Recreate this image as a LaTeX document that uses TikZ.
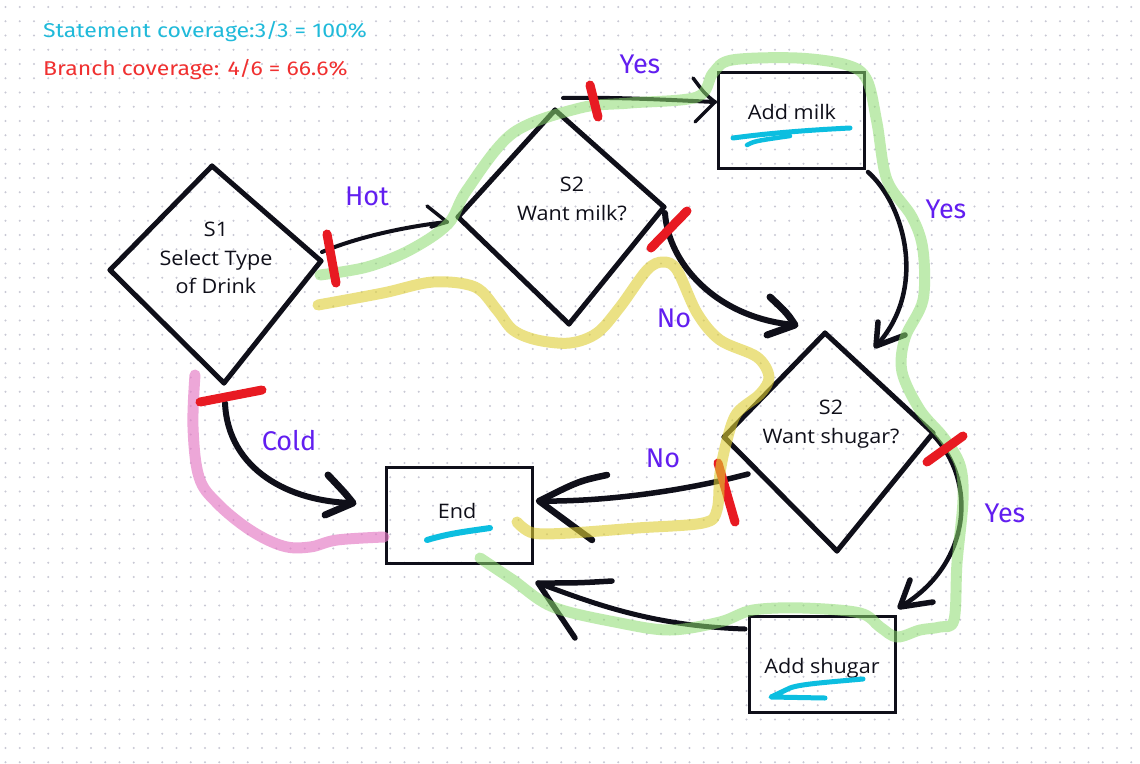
\documentclass[tikz,border=0pt]{standalone}
\usepackage{fontspec}
\setmainfont{Open Sans}[FakeStretch=1.08]
\newfontfamily\labelfont{Fira Sans}
\newfontfamily\topfont{Fira Sans}[FakeStretch=1.15]
\usetikzlibrary{calc}
\definecolor{stmtcyan}{RGB}{32,186,218}
\definecolor{brred}{RGB}{240,48,48}
\definecolor{lblpurple}{RGB}{98,30,240}
\definecolor{markred}{RGB}{232,26,34}
\definecolor{hlgreen}{RGB}{140,220,110}
\definecolor{hlyellow}{RGB}{222,206,50}
\definecolor{hlpink}{RGB}{228,120,196}
\definecolor{ulcyan}{RGB}{12,190,224}
\definecolor{griddot}{RGB}{200,200,212}
\definecolor{ink}{RGB}{15,15,25}
\tikzset{
  edge/.style={ink, line width=4.5pt, line cap=round, line join=round},
  bigedge/.style={ink, line width=6pt, line cap=round, line join=round},
  head/.style={ink, line width=5.5pt, line cap=round, line join=round},
  smallhead/.style={ink, line width=3.5pt, line cap=round, line join=round},
  dia/.style={ink, line width=5pt, line cap=round},
  box/.style={draw=ink, line width=3pt, inner sep=0pt, minimum width=146pt, minimum height=96pt},
  ntext/.style={text=ink, font=\fontsize{20}{28.5}\selectfont, align=center, inner sep=0pt},
  elabel/.style={text=lblpurple, font=\labelfont\fontsize{27}{30}\selectfont, inner sep=0pt, anchor=base},
  toptext/.style={font=\topfont\fontsize{20}{24}\selectfont, inner sep=0pt, anchor=base west},
  brmark/.style={markred, line width=9pt, line cap=round},
  hlg/.style={hlgreen, line width=11pt, opacity=.55, line cap=round, line join=round},
  hly/.style={hlyellow, line width=11pt, opacity=.6, line cap=round, line join=round},
  hlp/.style={hlpink, line width=11pt, opacity=.65, line cap=round, line join=round},
  uline/.style={ulcyan, line width=5pt, line cap=round, line join=round},
  gridrow/.style={griddot, line width=2.2pt, line cap=round, dash pattern=on 0pt off 14.25pt}
}
\begin{document}
\begin{tikzpicture}[x=1pt,y=-1pt]
\useasboundingbox (0,0) rectangle (1140,763);
\fill[white] (0,0) rectangle (1140,763);
% dot grid
\foreach \j in {0,...,53} { \draw[gridrow] (5.5, 7+\j*14.25) -- (1140, 7+\j*14.25); }

% top texts
\node[toptext, text=stmtcyan] (stmt) at (43,37) {Statement coverage:3/3 = 100\%};
\node[toptext, text=brred] (branch) at (43,75) {Branch coverage: 4/6 = 66.6\%};

% diamond corners
\coordinate (s1t) at (212,166); \coordinate (s1l) at (110,270);
\coordinate (s1r) at (321,261); \coordinate (s1b) at (224,383);
\coordinate (s2t) at (555,110); \coordinate (s2l) at (458,217);
\coordinate (s2r) at (664,207); \coordinate (s2b) at (569,324);
\coordinate (s3t) at (825,333); \coordinate (s3l) at (724,437);
\coordinate (s3r) at (933,433); \coordinate (s3b) at (837,551);

% diamonds
\foreach \d in {s1,s2,s3} {
  \draw[dia] (\d t) -- (\d r);
  \draw[dia] (\d r) -- (\d b);
  \draw[dia] (\d b) -- (\d l);
  \draw[dia] (\d l) -- (\d t);
}
\node[ntext] (s1) at (216,258) {S1\\Select Type\\of Drink};
\node[ntext] (s2) at (572,199) {S2\\Want milk?};
\node[ntext] (s3) at (831,424) {S2\\Want shugar?};

% boxes
\node[box] (milk) at (791,120) {};
\node[box] (end) at (459,515) {};
\node[box] (sugar) at (822.5,664.5) {};
\node[ntext] (milkt) at (792,112) {Add milk};
\node[ntext] (endt) at (457,511) {End};
\node[ntext] (sugart) at (822,668) {Add shugar};

% connector end points
\coordinate (hs) at (322,252); \coordinate (ht) at (447,222);
\coordinate (ys) at (563,98);  \coordinate (yt) at (715,102);
\coordinate (ns) at (665,213); \coordinate (nt) at (795,325);
\coordinate (y2s) at (868,172); \coordinate (y2t) at (876,346);
\coordinate (n2s) at (748,474); \coordinate (n2t) at (539,501);
\coordinate (y3s) at (932,434); \coordinate (y3t) at (900,607);
\coordinate (es) at (745,629); \coordinate (et) at (538,583);
\coordinate (cs) at (225,403); \coordinate (ct) at (353,503);

% connectors
\draw[edge, line width=4pt] (hs) .. controls (360,236) and (410,226) .. (ht);
\draw[smallhead] ([shift={(-20,-16)}]ht) -- (ht) -- ([shift={(-16,5)}]ht);

\draw[edge, line width=4pt] (ys) .. controls (620,97) and (670,100) .. (yt);
\draw[smallhead] ([shift={(-22,-24)}]yt) .. controls ([shift={(-10,-8)}]yt) .. (yt) -- ([shift={(-20,20)}]yt);

\draw[bigedge] (ns) .. controls (668,262) and (715,318) .. (nt);
\draw[head, line width=7pt] ([shift={(-25,-28)}]nt) .. controls ([shift={(-8,-12)}]nt) .. (nt) -- ([shift={(-28,10)}]nt);

\draw[edge] (y2s) .. controls (905,205) and (928,290) .. (y2t);
\draw[head] ([shift={(2,-24)}]y2t) -- (y2t) -- ([shift={(29,-11)}]y2t);

\draw[bigedge, line width=5.5pt] (n2s) .. controls (680,492) and (600,502) .. (n2t);
\draw[head, line width=6.5pt] ([shift={(68,-26)}]n2t) .. controls ([shift={(40,-20)}]n2t) .. (n2t) -- ([shift={(53,39)}]n2t);

\draw[edge] (y3s) .. controls (978,480) and (972,565) .. (y3t);
\draw[head] ([shift={(10,-27)}]y3t) -- (y3t) -- ([shift={(33,-5)}]y3t);

\draw[edge, line width=5pt] (es) .. controls (650,626) and (590,602) .. (et);
\draw[head] ([shift={(74,-2)}]et) .. controls ([shift={(40,0)}]et) .. (et) -- ([shift={(37,55)}]et);

\draw[bigedge] (cs) .. controls (228,470) and (290,502) .. (ct);
\draw[head, line width=7pt] ([shift={(-25,-28)}]ct) .. controls ([shift={(-8,-10)}]ct) .. (ct) -- ([shift={(-28,12)}]ct);

% edge labels
\node[elabel] (lhot) at (367,205) {Hot};
\node[elabel] (lyes1) at (640,73) {Yes};
\node[elabel] (lno1) at (674,327) {No};
\node[elabel] (lyes2) at (946,218) {Yes};
\node[elabel] (lno2) at (663,467) {No};
\node[elabel] (lyes3) at (1005,522) {Yes};
\node[elabel] (lcold) at (289,450) {Cold};

% pink highlight (cold path)
\draw[hlp] plot[smooth, tension=0.6] coordinates {(195,375) (193,427) (199,477) (217,503) (250,530) (283,546) (310,547) (337,540) (384,537)};

% green highlight
\draw[hlg] plot[smooth, tension=0.55] coordinates {(320,275) (367,267) (410,250) (448,224) (467,190) (513,133) (580,108) (630,103) (697,97) (713,73) (732,60) (797,58) (847,65) (867,80) (877,123) (887,180) (912,217) (923,250) (923,300) (905,338) (902,372) (920,410) (944,438) (960,465) (963,500) (957,563) (954,620) (940,627) (920,630) (897,637) (880,627) (860,613) (803,608) (753,610) (720,622) (670,630) (620,623) (553,607) (513,580) (480,558)};

% red branch marks
\draw[brmark] (327,234) -- (336,283);
\draw[brmark] (200,402) -- (231,396) -- (262,390);
\draw[brmark] (590,85) -- (598,117);
\draw[brmark] (651,248) -- (687,211);
\draw[brmark] (718,463) -- (735,522);
\draw[brmark] (927,462) -- (963,436);

% yellow highlight
\draw[hly] plot[smooth, tension=0.55] coordinates {(318,305) (383,293) (433,282) (475,287) (497,310) (513,330) (537,340) (570,343) (597,333) (620,307) (647,270) (663,262) (677,270) (697,313) (720,340) (757,357) (769,377) (760,394) (737,413) (727,440) (720,473) (717,510) (703,523) (637,528) (570,533) (533,533) (517,522)};

% cyan underlines
\draw[uline] (733,138) .. controls (770,133) and (810,130) .. (850,128);
\draw[uline, line width=4.5pt] (747,145) .. controls (755,141) .. (790,136);
\draw[uline, line width=6pt] (427,540) .. controls (450,533) and (470,531) .. (490,528);
\draw[uline] (863,679) .. controls (830,682) and (800,684) .. (790,688) -- (771,697) -- (825,698);
\end{tikzpicture}
\end{document}
